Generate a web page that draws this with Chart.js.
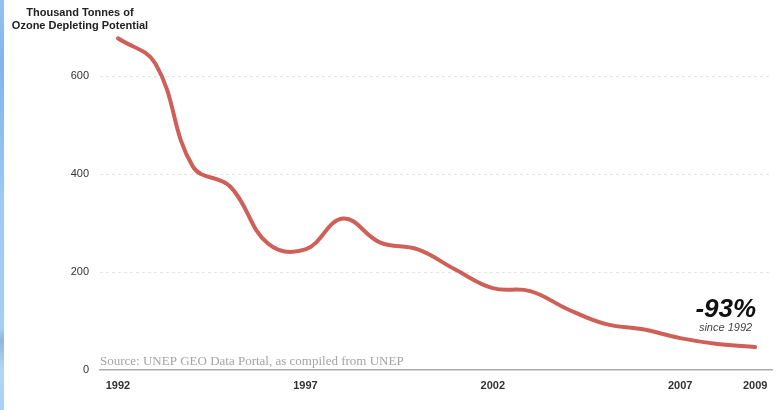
<!DOCTYPE html>
<html lang="en">
<head>
    <meta charset="UTF-8">
    <title>Ozone Depleting Substances Consumption</title>
    <script src="https://cdn.jsdelivr.net/npm/chart.js"></script>
    <style>
        html, body {
            margin: 0;
            padding: 0;
            background: #fff;
        }
        .container {
            position: relative;
            width: 781px;
            height: 410px;
        }
        /* slide edge on the left */
        .edge {
            position: absolute;
            left: 0;
            top: 0;
            width: 4px;
            height: 410px;
            background: linear-gradient(to bottom, #93c4ef 0%, #7fb6ea 15%, #9ccaf2 50%, #a5cff3 80%, #8fb6dc 83%, #b3d6f5 90%, #a9d0f4 100%);
        }
        canvas {
            position: absolute;
            left: 0;
            top: 0;
        }
    </style>
</head>
<body>
    <div class="container">
        <div class="edge"></div>
        <canvas id="odsChart" width="781" height="410"></canvas>
    </div>

    <script>
        // Consumption of ozone depleting substances, thousand tonnes ODP
        const years = [1992, 1993, 1994, 1995, 1996, 1997, 1998, 1999, 2000,
                       2001, 2002, 2003, 2004, 2005, 2006, 2007, 2008, 2009];
        const odpValues = [677, 625, 415, 374, 258, 246, 309, 260, 246,
                           205, 167, 161, 124, 94, 83, 65, 53, 47];
        const yearTicks = [1992, 1997, 2002, 2007, 2009];
        const valueTicks = [0, 200, 400, 600];

        const lineColor = 'rgb(206, 96, 88)';

        // axis title, source note and the change callout
        const textPlugin = {
            id: 'chartText',
            afterDraw(chart) {
                const ctx = chart.ctx;
                const area = chart.chartArea;
                const x = chart.scales.x;
                const y = chart.scales.y;
                ctx.save();

                ctx.fillStyle = '#222';
                ctx.font = 'bold 11px "Liberation Sans", Arial, sans-serif';
                ctx.textAlign = 'center';
                ctx.textBaseline = 'alphabetic';
                ctx.fillText('Thousand Tonnes of', 80, 16);
                ctx.fillText('Ozone Depleting Potential', 80, 29);

                ctx.fillStyle = '#a4a4a4';
                ctx.font = '13px "Liberation Serif", serif';
                ctx.textAlign = 'left';
                ctx.fillText('Source: UNEP GEO Data Portal, as compiled from UNEP', area.left, area.bottom - 5);

                const lastX = x.getPixelForValue(years[years.length - 1]);
                const lastY = y.getPixelForValue(odpValues[odpValues.length - 1]);
                ctx.fillStyle = '#111';
                ctx.textAlign = 'right';
                ctx.font = 'italic bold 26px "Liberation Sans", Arial, sans-serif';
                ctx.fillText('-93%', lastX + 1, lastY - 30);
                ctx.fillStyle = '#444';
                ctx.font = 'italic 11px "Liberation Sans", Arial, sans-serif';
                ctx.fillText('since 1992', lastX - 3, lastY - 16);

                ctx.restore();
            }
        };

        new Chart(document.getElementById('odsChart').getContext('2d'), {
            type: 'line',
            data: {
                datasets: [{
                    data: years.map((yr, i) => ({ x: yr, y: odpValues[i] })),
                    borderColor: lineColor,
                    borderWidth: 4,
                    borderCapStyle: 'round',
                    borderJoinStyle: 'round',
                    pointRadius: 0,
                    tension: 0.4,
                    fill: false
                }]
            },
            options: {
                responsive: false,
                animation: false,
                layout: {
                    padding: { top: 27, right: 9, left: 0, bottom: 0 }
                },
                plugins: {
                    legend: { display: false },
                    tooltip: { enabled: false }
                },
                scales: {
                    x: {
                        type: 'linear',
                        min: 1991.52,
                        max: 2009.45,
                        afterBuildTicks: axis => {
                            axis.ticks = yearTicks.map(v => ({ value: v }));
                        },
                        afterFit: axis => { axis.height = 40; },
                        grid: { display: false, drawTicks: false },
                        border: { display: true, color: '#aaa', width: 1.5 },
                        ticks: {
                            padding: 9,
                            color: '#333',
                            font: { family: '"Liberation Sans", Arial, sans-serif', size: 11, weight: 'bold' },
                            callback: v => String(v)
                        }
                    },
                    y: {
                        min: 0,
                        max: 700,
                        afterBuildTicks: axis => {
                            axis.ticks = valueTicks.map(v => ({ value: v }));
                        },
                        afterFit: axis => { axis.width = 100; },
                        grid: {
                            drawTicks: false,
                            color: ctx => ctx.tick && ctx.tick.value === 0 ? 'rgba(0,0,0,0)' : '#e4e4e4',
                            lineWidth: 1
                        },
                        border: { display: false, dash: [3, 3] },
                        ticks: {
                            padding: 11,
                            color: '#333',
                            font: { family: '"Liberation Sans", Arial, sans-serif', size: 11 }
                        }
                    }
                }
            },
            plugins: [textPlugin]
        });
    </script>
</body>
</html>
